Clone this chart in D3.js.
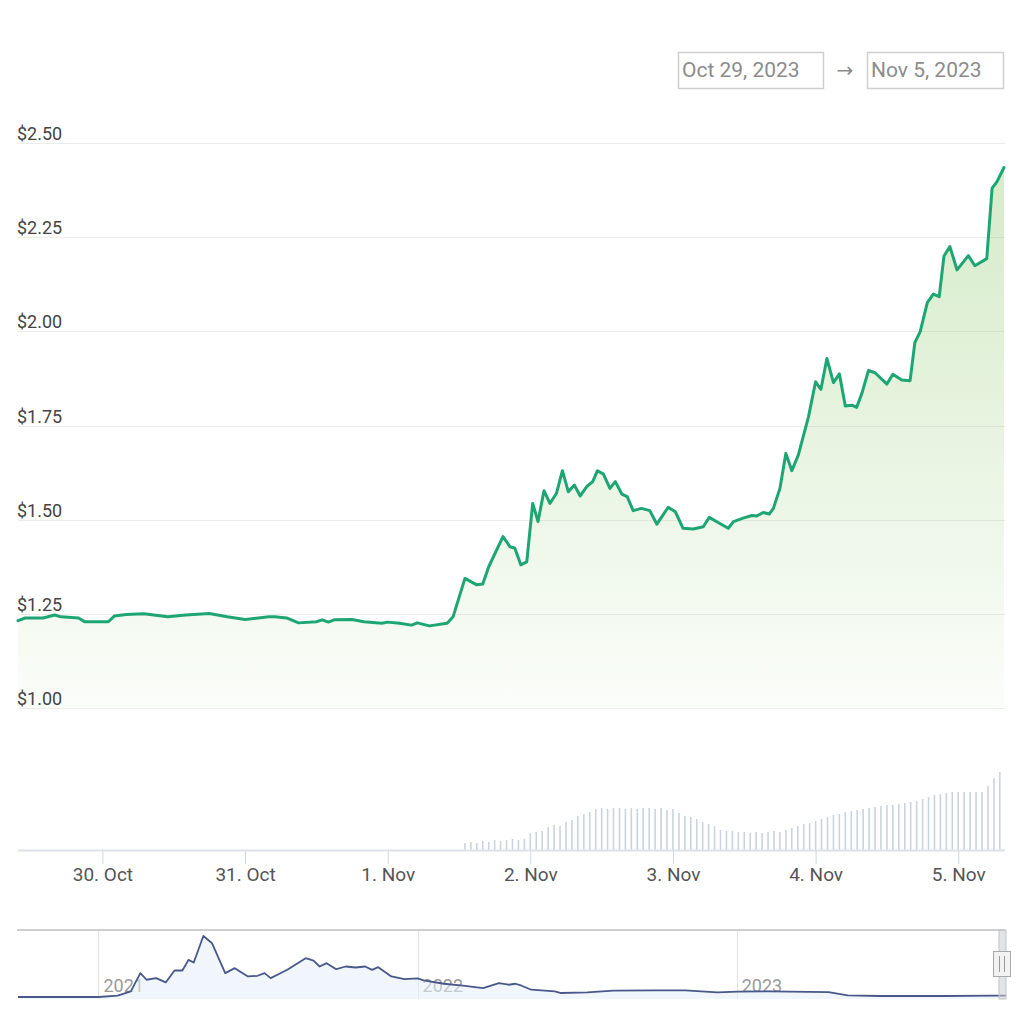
<!DOCTYPE html>
<html>
<head>
<meta charset="utf-8">
<script src="https://cdn.jsdelivr.net/npm/d3@7"></script>
<style>
  html, body { margin: 0; padding: 0; background: #fff; }
  svg { display: block; font-family: Roboto, "Noto Sans", sans-serif; }
</style>
</head>
<body>
<svg id="chart" width="1024" height="1024"></svg>
<script>
// ---------------- DATA ----------------
const rangeFrom = "Oct 29, 2023";
const rangeTo = "Nov 5, 2023";
const baseTime = new Date(2023, 9, 29, 0, 0); // hours below are offsets from this

// price line: hour offsets and USD prices
const priceHours = [9.8, 11, 14, 16, 17, 20, 21, 25, 26, 28, 31, 35, 38, 42, 45, 48, 52, 53, 55, 57,
  60, 61, 62, 63, 66, 68, 71, 72, 74, 76, 77, 79, 82, 83,
  85, 87, 88, 89, 91.4, 92.6, 93.4, 94.4, 95.4, 96.4,
  97.3, 98.3, 99.3, 100.4, 101.4, 102.4, 103.4, 104.4, 105.5, 106.5,
  107.3, 108.3, 109.4, 110.3, 111.4, 112.3, 113.3, 114.7, 116.1, 117.3,
  119.2, 120.4, 121.7, 123.4, 125.1, 126.1, 127.9, 129.3, 130.2, 131.8,
  133.3, 134.1, 135.2, 136.2, 136.9, 138.0, 139.0, 140.0, 141.1, 142.8,
  144.0, 144.9, 145.9, 147.0, 148.0, 149.0, 150.1, 150.9, 151.8, 152.9,
  154.0, 156.0, 157.0, 158.5, 159.9, 160.7, 161.6, 162.8, 163.8, 164.8,
  165.6, 166.6, 167.8, 169.7, 170.8, 172.8, 173.7, 174.5, 175.7];
const prices = [1.232, 1.239, 1.239, 1.247, 1.242, 1.239, 1.229, 1.229, 1.244, 1.248, 1.250, 1.242, 1.247, 1.251, 1.242, 1.235, 1.242, 1.242, 1.239, 1.226,
  1.229, 1.234, 1.228, 1.234, 1.235, 1.229, 1.225, 1.228, 1.225, 1.220, 1.226, 1.218, 1.225, 1.242,
  1.344, 1.327, 1.329, 1.375, 1.455, 1.428, 1.424, 1.380, 1.388, 1.543,
  1.495, 1.577, 1.543, 1.570, 1.630, 1.574, 1.592, 1.563, 1.588, 1.601,
  1.630, 1.621, 1.583, 1.601, 1.568, 1.561, 1.524, 1.530, 1.524, 1.488,
  1.533, 1.521, 1.477, 1.475, 1.481, 1.506, 1.490, 1.477, 1.495, 1.504,
  1.511, 1.510, 1.519, 1.515, 1.530, 1.583, 1.676, 1.630, 1.672, 1.773,
  1.866, 1.846, 1.928, 1.864, 1.887, 1.802, 1.804, 1.798, 1.836, 1.896,
  1.890, 1.860, 1.886, 1.871, 1.869, 1.970, 1.999, 2.076, 2.099, 2.092,
  2.200, 2.225, 2.163, 2.201, 2.174, 2.193, 2.380, 2.397, 2.435];

// hourly volume (relative units), first bar at hour 85
const volumeStartHour = 85;
const volumes = [7, 8, 7, 9, 8, 10, 9, 10, 11, 10, 11,
  17, 18, 19, 23, 25, 24, 28, 30, 34, 36, 38,
  41, 42, 41, 42, 42, 41, 42, 41, 42, 42, 41, 42, 40, 41,
  37, 34, 33, 31, 28, 26, 24, 20, 19, 19, 18, 18, 17, 18, 17, 18, 19, 18,
  20, 22, 24, 26, 27, 29, 31, 33, 35, 36, 38, 39, 40, 41, 42, 43, 44, 45, 45, 46, 47, 48, 49, 51, 53, 55, 56, 57, 58, 58, 58, 58, 58, 58,
  64, 72, 78];

const yTicks = [1.00, 1.25, 1.50, 1.75, 2.00, 2.25, 2.50];

// navigator (full history)
const navDates = ["2020-10-01", "2021-01-01", "2021-01-23", "2021-02-07", "2021-02-18", "2021-02-25", "2021-03-08", "2021-03-19", "2021-03-29", "2021-04-07",
  "2021-04-14", "2021-04-20", "2021-05-01", "2021-05-11", "2021-05-26", "2021-06-06", "2021-06-21", "2021-07-02", "2021-07-10", "2021-07-17",
  "2021-08-05", "2021-08-26", "2021-09-04", "2021-09-11", "2021-09-19", "2021-09-30", "2021-10-11", "2021-10-22", "2021-11-02", "2021-11-10",
  "2021-11-17", "2021-12-02", "2021-12-17", "2022-01-01", "2022-01-08", "2022-01-31", "2022-02-22", "2022-03-17", "2022-04-04", "2022-04-15",
  "2022-04-23", "2022-04-30", "2022-05-11", "2022-06-07", "2022-06-14", "2022-07-14", "2022-08-13", "2022-09-27", "2022-11-03", "2022-12-10",
  "2023-01-02", "2023-02-08", "2023-04-16", "2023-05-08", "2023-06-14", "2023-08-27", "2023-10-25", "2023-11-05"];
const navPrices = [1.6, 1.6, 2.4, 5.0, 16.0, 12.0, 13.0, 10.4, 17.6, 17.6,
  24.0, 22.4, 38.4, 34.0, 16.0, 19.0, 14.0, 14.4, 16.0, 13.0,
  18.0, 25.0, 23.6, 20.0, 22.0, 18.4, 20.0, 19.4, 20.0, 18.0,
  19.6, 14.0, 12.4, 12.8, 11.6, 9.6, 8.4, 7.0, 10.0, 9.0,
  9.6, 8.4, 6.0, 5.0, 4.0, 4.4, 5.4, 5.6, 5.6, 4.4,
  4.8, 5.0, 4.6, 2.6, 2.2, 2.2, 2.4, 2.43];
const navYears = ["2021", "2022", "2023"];

// ---------------- DRAW ----------------
const svg = d3.select("#chart");
const hourToDate = h => new Date(baseTime.getTime() + h * 3600 * 1000);

const priceData = priceHours.map((h, i) => ({ t: hourToDate(h), v: prices[i] }));
const volData = volumes.map((v, i) => ({ t: hourToDate(volumeStartHour + i), v }));
const navData = navDates.map((d, i) => ({ t: d3.timeParse("%Y-%m-%d")(d), v: navPrices[i] }));

const plotL = 18, plotR = 1004;
const x = d3.scaleTime().domain(d3.extent(priceData, d => d.t)).range([plotL, plotR]);
const y = d3.scaleLinear().domain([1.0, 2.5]).range([708, 143]);
const yVol = d3.scaleLinear().domain([0, 80]).range([850, 770]);

// header date range boxes
const hdr = svg.append("g");
hdr.append("rect").attr("x", 678.5).attr("y", 52.5).attr("width", 145).attr("height", 36)
  .attr("fill", "#fff").attr("stroke", "#cfcfcf").attr("stroke-width", 1.5);
hdr.append("text").attr("x", 682).attr("y", 77).attr("font-size", 21).attr("fill", "#8c8c8c").text(rangeFrom);
hdr.append("text").attr("x", 845).attr("y", 77).attr("text-anchor", "middle").attr("font-size", 20)
  .attr("font-family", "'DejaVu Sans', sans-serif").attr("fill", "#8c8c8c").text("→");
hdr.append("rect").attr("x", 867.5).attr("y", 52.5).attr("width", 136).attr("height", 36)
  .attr("fill", "#fff").attr("stroke", "#cfcfcf").attr("stroke-width", 1.5);
hdr.append("text").attr("x", 871).attr("y", 77).attr("font-size", 21).attr("fill", "#8c8c8c").text(rangeTo);

// gradient
const defs = svg.append("defs");
const grad = defs.append("linearGradient").attr("id", "areaGrad")
  .attr("gradientUnits", "userSpaceOnUse").attr("x1", 0).attr("x2", 0).attr("y1", y(2.5)).attr("y2", y(1.0));
grad.append("stop").attr("offset", "0%").attr("stop-color", "#8cc96a").attr("stop-opacity", 0.38);
grad.append("stop").attr("offset", "100%").attr("stop-color", "#8cc96a").attr("stop-opacity", 0.04);

// y grid
svg.append("g").selectAll("line").data(yTicks).join("line")
  .attr("x1", plotL).attr("x2", 1005)
  .attr("y1", d => Math.round(y(d)) + 0.5).attr("y2", d => Math.round(y(d)) + 0.5)
  .attr("stroke", "#ececec").attr("stroke-width", 1);

// area + line
const area = d3.area().x(d => x(d.t)).y0(y(1.0)).y1(d => y(d.v));
svg.append("path").datum(priceData).attr("d", area).attr("fill", "url(#areaGrad)");
const line = d3.line().x(d => x(d.t)).y(d => y(d.v));
svg.append("path").datum(priceData).attr("d", line)
  .attr("fill", "none").attr("stroke", "#1da673").attr("stroke-width", 3)
  .attr("stroke-linejoin", "round").attr("stroke-linecap", "round");

// y labels
svg.append("g").selectAll("text").data(yTicks).join("text")
  .attr("x", 17).attr("y", d => y(d) - 3)
  .attr("font-size", 18).attr("fill", "#444")
  .text(d => "$" + d3.format(".2f")(d));

// volume bars
svg.append("g").selectAll("line").data(volData).join("line")
  .attr("x1", d => x(d.t)).attr("x2", d => x(d.t))
  .attr("y1", yVol(0)).attr("y2", d => yVol(d.v))
  .attr("stroke", "#cad3e0").attr("stroke-width", 1.6);

// x axis
const xAxis = d3.axisBottom(x).ticks(d3.timeDay.every(1)).tickFormat(d3.timeFormat("%-d. %b")).tickSizeOuter(0).tickSize(14);
const gx = svg.append("g").attr("transform", `translate(0,${yVol(0)})`).call(xAxis);
gx.select(".domain").remove();
gx.selectAll(".tick line").attr("stroke", "#ccd6eb");
gx.selectAll(".tick text").attr("font-size", 19).attr("fill", "#555").attr("y", 12).attr("dy", "1.0em").attr("font-family", "Roboto, sans-serif");
svg.append("line").attr("x1", plotL).attr("x2", 1005).attr("y1", yVol(0) + 0.5).attr("y2", yVol(0) + 0.5)
  .attr("stroke", "#dde2ea").attr("stroke-width", 2);

// ---------------- NAVIGATOR ----------------
const nx = d3.scaleTime().domain([new Date(2020, 9, 1), new Date(2023, 10, 5)]).range([18, 1006]);
const ny = d3.scaleLinear().domain(d3.extent(navData, d => d.v)).range([997, 936]);
const navTop = 930, navBot = 999;

const yearDates = navYears.map(s => new Date(+s, 0, 1));
svg.append("g").selectAll("line").data(yearDates).join("line")
  .attr("x1", d => Math.round(nx(d)) + 0.5).attr("x2", d => Math.round(nx(d)) + 0.5)
  .attr("y1", navTop).attr("y2", navBot).attr("stroke", "#e3e3e3");
svg.append("g").selectAll("text").data(yearDates).join("text")
  .attr("x", d => nx(d) + 5).attr("y", 992)
  .attr("font-size", 18).attr("fill", "#999").text((d, i) => navYears[i]);

const navArea = d3.area().x(d => nx(d.t)).y0(navBot).y1(d => ny(d.v));
svg.append("path").datum(navData).attr("d", navArea).attr("fill", "#e6eefa").attr("fill-opacity", 0.55);
const navLine = d3.line().x(d => nx(d.t)).y(d => ny(d.v));
svg.append("path").datum(navData).attr("d", navLine)
  .attr("fill", "none").attr("stroke", "#48588a").attr("stroke-width", 1.8).attr("stroke-linejoin", "round");

svg.append("line").attr("x1", 17).attr("x2", 1005).attr("y1", navTop).attr("y2", navTop)
  .attr("stroke", "#cfcfcf").attr("stroke-width", 2);

// selected range and handle
const selStart = nx(x.domain()[0]);
svg.append("rect").attr("x", Math.min(selStart, 999)).attr("y", navTop).attr("width", 1006 - Math.min(selStart, 999)).attr("height", navBot - navTop)
  .attr("fill", "#c9ccd3").attr("fill-opacity", 0.55).attr("stroke", "#c4c4c4").attr("stroke-width", 1);
const hg = svg.append("g");
hg.append("rect").attr("x", 993.5).attr("y", 951.5).attr("width", 17).attr("height", 25)
  .attr("fill", "#f2f2f2").attr("stroke", "#a8a8a8").attr("stroke-width", 1);
hg.append("line").attr("x1", 999.5).attr("x2", 999.5).attr("y1", 956).attr("y2", 972).attr("stroke", "#999");
hg.append("line").attr("x1", 1004.5).attr("x2", 1004.5).attr("y1", 956).attr("y2", 972).attr("stroke", "#999");
</script>
</body>
</html>
